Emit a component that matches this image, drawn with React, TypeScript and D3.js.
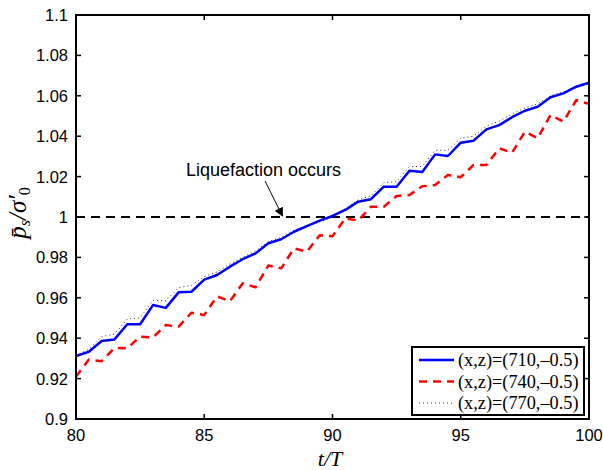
import React from "react";
import * as d3 from "d3";

const tValues: number[] = d3.range(80, 100.001, 0.5);

const series710: number[] = [
  0.9312, 0.9333, 0.9386, 0.9394, 0.9469, 0.9469, 0.9564, 0.955, 0.9627, 0.963,
  0.969, 0.9713, 0.9754, 0.9791, 0.982, 0.987, 0.989, 0.9927, 0.9955, 0.9982,
  1.0005, 1.0035, 1.0076, 1.0088, 1.015, 1.015, 1.0229, 1.0223, 1.031, 1.0302,
  1.0368, 1.0378, 1.0434, 1.0455, 1.0494, 1.0526, 1.0546, 1.0593, 1.0612, 1.0645,
  1.0665,
];

const series740: number[] = [
  0.921, 0.9294, 0.9286, 0.9352, 0.935, 0.9408, 0.9404, 0.9465, 0.9457, 0.9526,
  0.9515, 0.9607, 0.9583, 0.9672, 0.9652, 0.976, 0.9746, 0.9845, 0.9828, 0.991,
  0.9905, 0.9994, 0.9982, 1.0051, 1.0051, 1.0104, 1.0109, 1.0152, 1.0158, 1.0208,
  1.0197, 1.0258, 1.0257, 1.034, 1.0318, 1.0422, 1.039, 1.0505, 1.0472, 1.0578,
  1.056,
];

const series770: number[] = [
  0.9315, 0.9345, 0.9408, 0.942, 0.9495, 0.95, 0.9588, 0.9585, 0.965, 0.9662,
  0.9705, 0.9728, 0.9768, 0.98, 0.9832, 0.9878, 0.99, 0.9935, 0.9958, 0.9975,
  1.0, 1.0042, 1.0085, 1.0105, 1.017, 1.0175, 1.025, 1.025, 1.033, 1.033,
  1.039, 1.04, 1.045, 1.0475, 1.051, 1.054, 1.056, 1.06, 1.062, 1.064,
  1.066,
];

const xTicks: number[] = [80, 85, 90, 95, 100];
const yTicks: number[] = [0.9, 0.92, 0.94, 0.96, 0.98, 1, 1.02, 1.04, 1.06, 1.08, 1.1];
const legendLabels: string[] = [
  "(x,z)=(710,\u20130.5)",
  "(x,z)=(740,\u20130.5)",
  "(x,z)=(770,\u20130.5)",
];
const annotationText = "Liquefaction occurs";
const thresholdValue = 1;

export default function App() {
  const W = 603;
  const H = 470;
  const left = 76, right = 589, top = 15, bottom = 419;
  const x = d3.scaleLinear().domain([80, 100]).range([left, right]);
  const y = d3.scaleLinear().domain([0.9, 1.1]).range([bottom, top]);
  const line = d3
    .line<number>()
    .x((_, i) => x(tValues[i]))
    .y((d) => y(d));

  const styles = [
    { color: "#0000ff", width: 2.5, dash: undefined as string | undefined },
    { color: "#ff0000", width: 2.5, dash: "8,6" },
    { color: "#333333", width: 1, dash: "1,3" },
  ];
  const series = [series710, series740, series770];

  const fmt = (v: number) => {
    const s = d3.format(".2f")(v);
    return s.replace(/\.?0+$/, "");
  };

  const tickLen = 5;
  const legX = 412, legY = 347, legW = 172, legH = 68;

  return (
    <svg
      width={W}
      height={H}
      style={{ position: "absolute", left: 0, top: 0, background: "#fff" }}
      fontFamily="Liberation Sans, Arial, sans-serif"
    >
      <rect x={0} y={0} width={W} height={H} fill="#fff" />
      <defs>
        <clipPath id="plotclip">
          <rect x={left} y={top} width={right - left} height={bottom - top} />
        </clipPath>
        <marker
          id="arrowhead"
          viewBox="0 0 10 10"
          refX={9}
          refY={5}
          markerWidth={9}
          markerHeight={9}
          markerUnits="userSpaceOnUse"
          orient="auto"
        >
          <path d="M0,0 L10,5 L0,10 z" fill="#000" />
        </marker>
      </defs>

      <line
        x1={left}
        x2={right}
        y1={y(thresholdValue)}
        y2={y(thresholdValue)}
        stroke="#000"
        strokeWidth={2}
        strokeDasharray="9,6"
      />

      <g clipPath="url(#plotclip)">
        {[2, 1, 0].map((k) => (
          <path
            key={k}
            d={line(series[k]) || ""}
            fill="none"
            stroke={styles[k].color}
            strokeWidth={styles[k].width}
            strokeDasharray={styles[k].dash}
            strokeLinejoin="round"
          />
        ))}
      </g>

      <text x={186} y={176} fontSize={18} fill="#000">
        {annotationText}
      </text>
      <line
        x1={265}
        y1={181}
        x2={x(88.05)}
        y2={y(thresholdValue) - 1}
        stroke="#000"
        strokeWidth={1}
        markerEnd="url(#arrowhead)"
      />

      <rect
        x={left}
        y={top}
        width={right - left}
        height={bottom - top}
        fill="none"
        stroke="#000"
        strokeWidth={2}
      />

      {xTicks.map((t) => (
        <g key={"x" + t}>
          <line x1={x(t)} x2={x(t)} y1={bottom} y2={bottom - tickLen} stroke="#000" strokeWidth={1.5} />
          <line x1={x(t)} x2={x(t)} y1={top} y2={top + tickLen} stroke="#000" strokeWidth={1.5} />
          <text x={x(t)} y={441} textAnchor="middle" fontSize={16.5}>
            {t}
          </text>
        </g>
      ))}

      {yTicks.map((t) => (
        <g key={"y" + t}>
          <line x1={left} x2={left + tickLen} y1={y(t)} y2={y(t)} stroke="#000" strokeWidth={1.5} />
          <line x1={right} x2={right - tickLen} y1={y(t)} y2={y(t)} stroke="#000" strokeWidth={1.5} />
          <text x={68} y={y(t)} dy="0.36em" textAnchor="end" fontSize={16.5}>
            {fmt(t)}
          </text>
        </g>
      ))}

      <text
        x={330}
        y={466}
        textAnchor="middle"
        fontSize={22}
        fontStyle="italic"
        fontFamily="Liberation Serif, Times New Roman, serif"
      >
        t/T
      </text>

      <text
        transform={`translate(26,${213}) rotate(-90)`}
        textAnchor="middle"
        fontSize={25}
        fontStyle="italic"
        fontFamily="Liberation Serif, Times New Roman, serif"
      >
        <tspan>{"p\u0304"}</tspan>
        <tspan fontSize={16} dy={4}>s</tspan>
        <tspan dy={-4}>/σ′</tspan>
        <tspan fontSize={16} dy={4} fontStyle="normal">0</tspan>
      </text>

      <rect x={legX} y={legY} width={legW} height={legH} fill="#fff" stroke="#000" strokeWidth={2} />
      {legendLabels.map((lab, i) => {
        const ry = 360 + i * 21.5;
        return (
          <g key={lab}>
            <line
              x1={419}
              x2={454}
              y1={ry}
              y2={ry}
              stroke={styles[i].color}
              strokeWidth={styles[i].width}
              strokeDasharray={styles[i].dash}
            />
            <text
              x={458}
              y={ry}
              dy="0.33em"
              fontSize={18.3}
              fontFamily="Liberation Serif, Times New Roman, serif"
            >
              {lab}
            </text>
          </g>
        );
      })}
    </svg>
  );
}
